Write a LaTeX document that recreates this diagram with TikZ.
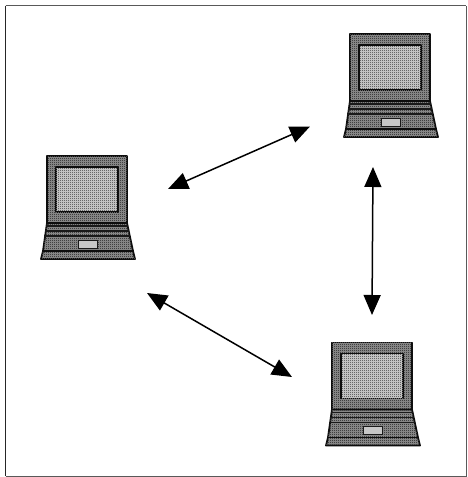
\documentclass[tikz,border=0pt]{standalone}
\usetikzlibrary{arrows.meta,patterns}
\definecolor{bodygray}{gray}{0.52}
\definecolor{screengray}{gray}{0.76}
\definecolor{padgray}{gray}{0.78}
\pgfdeclarepatternformonly{speckle}{\pgfqpoint{-0.5pt}{-0.5pt}}{\pgfqpoint{1.5pt}{1.5pt}}{\pgfqpoint{2pt}{2pt}}{%
  \pgfpathrectangle{\pgfqpoint{0pt}{0pt}}{\pgfqpoint{0.8pt}{0.8pt}}%
  \pgfusepath{fill}}
\pgfdeclarepatternformonly{finespeckle}{\pgfqpoint{-0.5pt}{-0.5pt}}{\pgfqpoint{1.5pt}{1.5pt}}{\pgfqpoint{2pt}{2pt}}{%
  \pgfpathrectangle{\pgfqpoint{0pt}{0pt}}{\pgfqpoint{0.5pt}{0.5pt}}%
  \pgfusepath{fill}}
\tikzset{
  x=1pt,y=-1pt,
  laptopline/.style={draw=black!95,line width=1.8pt,line join=round},
  keyline/.style={draw=black!90,line width=1.3pt},
  link/.style={draw=black,line width=1.5pt,{Triangle[length=20pt,width=17pt]}-{Triangle[length=20pt,width=17pt]}},
  bodyfill/.style={fill=bodygray,postaction={pattern=speckle,pattern color=black!75}},
  screenfill/.style={fill=screengray,postaction={pattern=finespeckle,pattern color=black!60}},
  laptop/.pic={
    \path[laptopline,bodyfill] (6,-103) -- (86,-103) -- (86,-36) -- (6,-36) -- cycle;
    \path[laptopline,screenfill] (15,-92) -- (77,-92) -- (77,-47) -- (15,-47) -- cycle;
    \path[laptopline,bodyfill] (6,-36) -- (86,-36) -- (92,-8) -- (94,0) -- (0,0) -- (2,-8) -- cycle;
    \path[keyline] (5,-33) -- (87,-33);
    \path[keyline] (4,-28) -- (88,-28);
    \path[keyline] (3,-23) -- (89,-23);
    \path[laptopline] (1,-8) -- (93,-8);
    \path[draw=black!90,line width=1pt,fill=padgray] (37,-19) rectangle (56,-11);
  }
}
\begin{document}
\begin{tikzpicture}
\useasboundingbox (0,0) rectangle (468,477);
\fill[white] (0,0) rectangle (468,477);
\draw[black!65,line width=1pt] (5.5,5.5) -- (466,5.5);
\draw[black!85,line width=1.1pt] (5.5,5.5) -- (5.5,476);
\draw[black!65,line width=0.9pt] (5.5,476) -- (466,476) -- (466,5.5);
\pic (laptopA) at (41,259) {laptop};
\pic (laptopB) at (344,137) {laptop};
\pic (laptopC) at (326,445.5) {laptop};
\coordinate (abL) at (168,189);
\coordinate (abR) at (310,126.5);
\coordinate (acL) at (147,293);
\coordinate (acR) at (292,377);
\coordinate (bcT) at (373,167);
\coordinate (bcB) at (372,315);
\draw[link] (abL) -- (abR);
\draw[link] (acL) -- (acR);
\draw[link] (bcT) -- (bcB);
\end{tikzpicture}
\end{document}
